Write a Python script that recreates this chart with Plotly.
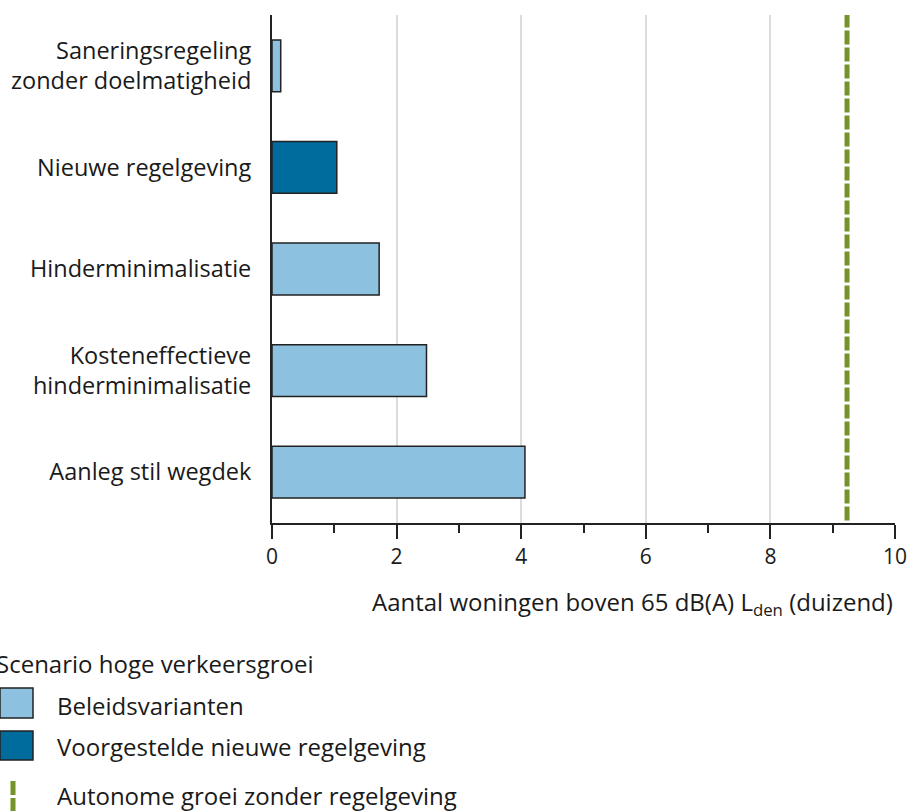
import plotly.graph_objects as go

# ---- data ----
categories = [
    "Saneringsregeling<br>zonder doelmatigheid",
    "Nieuwe regelgeving",
    "Hinderminimalisatie",
    "Kosteneffectieve<br>hinderminimalisatie",
    "Aanleg stil wegdek",
]
values = [0.14, 1.04, 1.72, 2.48, 4.06]
groups = ["Beleidsvarianten", "Voorgestelde nieuwe regelgeving", "Beleidsvarianten",
          "Beleidsvarianten", "Beleidsvarianten"]
autonome_groei = 9.23
x_ticks = [0, 2, 4, 6, 8, 10]
legend_title = "Scenario hoge verkeersgroei"
legend_labels = ["Beleidsvarianten", "Voorgestelde nieuwe regelgeving", "Autonome groei zonder regelgeving"]
x_title = "Aantal woningen boven 65 dB(A) L<sub>den</sub> (duizend)"

# ---- styles ----
LIGHT = "#8cc1df"
DARK = "#006c9e"
GREEN = "#76932a"
FONT = "Open Sans"
TEXT = "#1a1a1a"
color_map = {"Beleidsvarianten": LIGHT, "Voorgestelde nieuwe regelgeving": DARK}

W, H = 909, 811
L, R, T, B = 272, 14, 15, 288
PW, PH = W - L - R, H - T - B

def px(xp):
    return (xp - L) / PW

def py(yp):
    return (H - B - yp) / PH

fig = go.Figure()
fig.add_trace(go.Bar(
    y=categories, x=values, orientation="h",
    marker=dict(color=[color_map[g] for g in groups], line=dict(color="#222222", width=1.5)),
    width=0.51, showlegend=False,
))

fig.add_shape(type="line", xref="x", yref="paper", x0=autonome_groei, x1=autonome_groei,
              y0=0.005, y1=1, line=dict(color=GREEN, width=5, dash="14px,3px"))

# legend (custom)
fig.add_shape(type="rect", xref="paper", yref="paper", x0=px(0), x1=px(33), y0=py(688), y1=py(718),
              fillcolor=LIGHT, line=dict(color="#222222", width=1.5))
fig.add_shape(type="rect", xref="paper", yref="paper", x0=px(0), x1=px(33), y0=py(731), y1=py(760),
              fillcolor=DARK, line=dict(color="#222222", width=1.5))
fig.add_shape(type="line", xref="paper", yref="paper", x0=px(13), x1=px(13), y0=py(781), y1=py(811),
              line=dict(color=GREEN, width=5, dash="14px,3px"))

ann = [
    (legend_title, -6, 663),
    (legend_labels[0], 55, 705),
    (legend_labels[1], 55, 746),
    (legend_labels[2], 55, 795),
]
for txt, xx, yy in ann:
    fig.add_annotation(text=txt, xref="paper", yref="paper", x=px(xx), y=py(yy),
                       xanchor="left", yanchor="middle", showarrow=False,
                       font=dict(family=FONT, size=24, color=TEXT))

fig.add_annotation(text=x_title, xref="paper", yref="paper", x=1.0, y=py(603),
                   xanchor="right", yanchor="middle", showarrow=False,
                   font=dict(family=FONT, size=24, color=TEXT))

fig.update_layout(
    width=W, height=H,
    margin=dict(l=L, r=R, t=T, b=B, autoexpand=False),
    plot_bgcolor="white", paper_bgcolor="white",
    bargap=0.49,
    font=dict(family=FONT, size=24, color=TEXT),
)
fig.update_xaxes(
    range=[0, 10], tickvals=x_ticks, ticks="outside", ticklen=14, tickwidth=2, tickcolor="#222222",
    showline=True, linecolor="#222222", linewidth=2, automargin=False, ticklabeloverflow="allow",
    showgrid=True, gridcolor="#dcdcdc", gridwidth=2, zeroline=False,
    tickfont=dict(family=FONT, size=21, color=TEXT),
    minor=dict(dtick=1, ticks="outside", ticklen=8, tickwidth=2, tickcolor="#222222", showgrid=False),
)
fig.update_yaxes(
    autorange="reversed", showline=True, linecolor="#222222", linewidth=2, automargin=False,
    showgrid=False, ticks="", ticklen=0, ticklabelstandoff=14, ticklabeloverflow="allow",
    tickfont=dict(family=FONT, size=23.5, color=TEXT),
)

fig.write_html("out.html", config={"displayModeBar": False},
               post_script="document.body.style.margin='0';")
